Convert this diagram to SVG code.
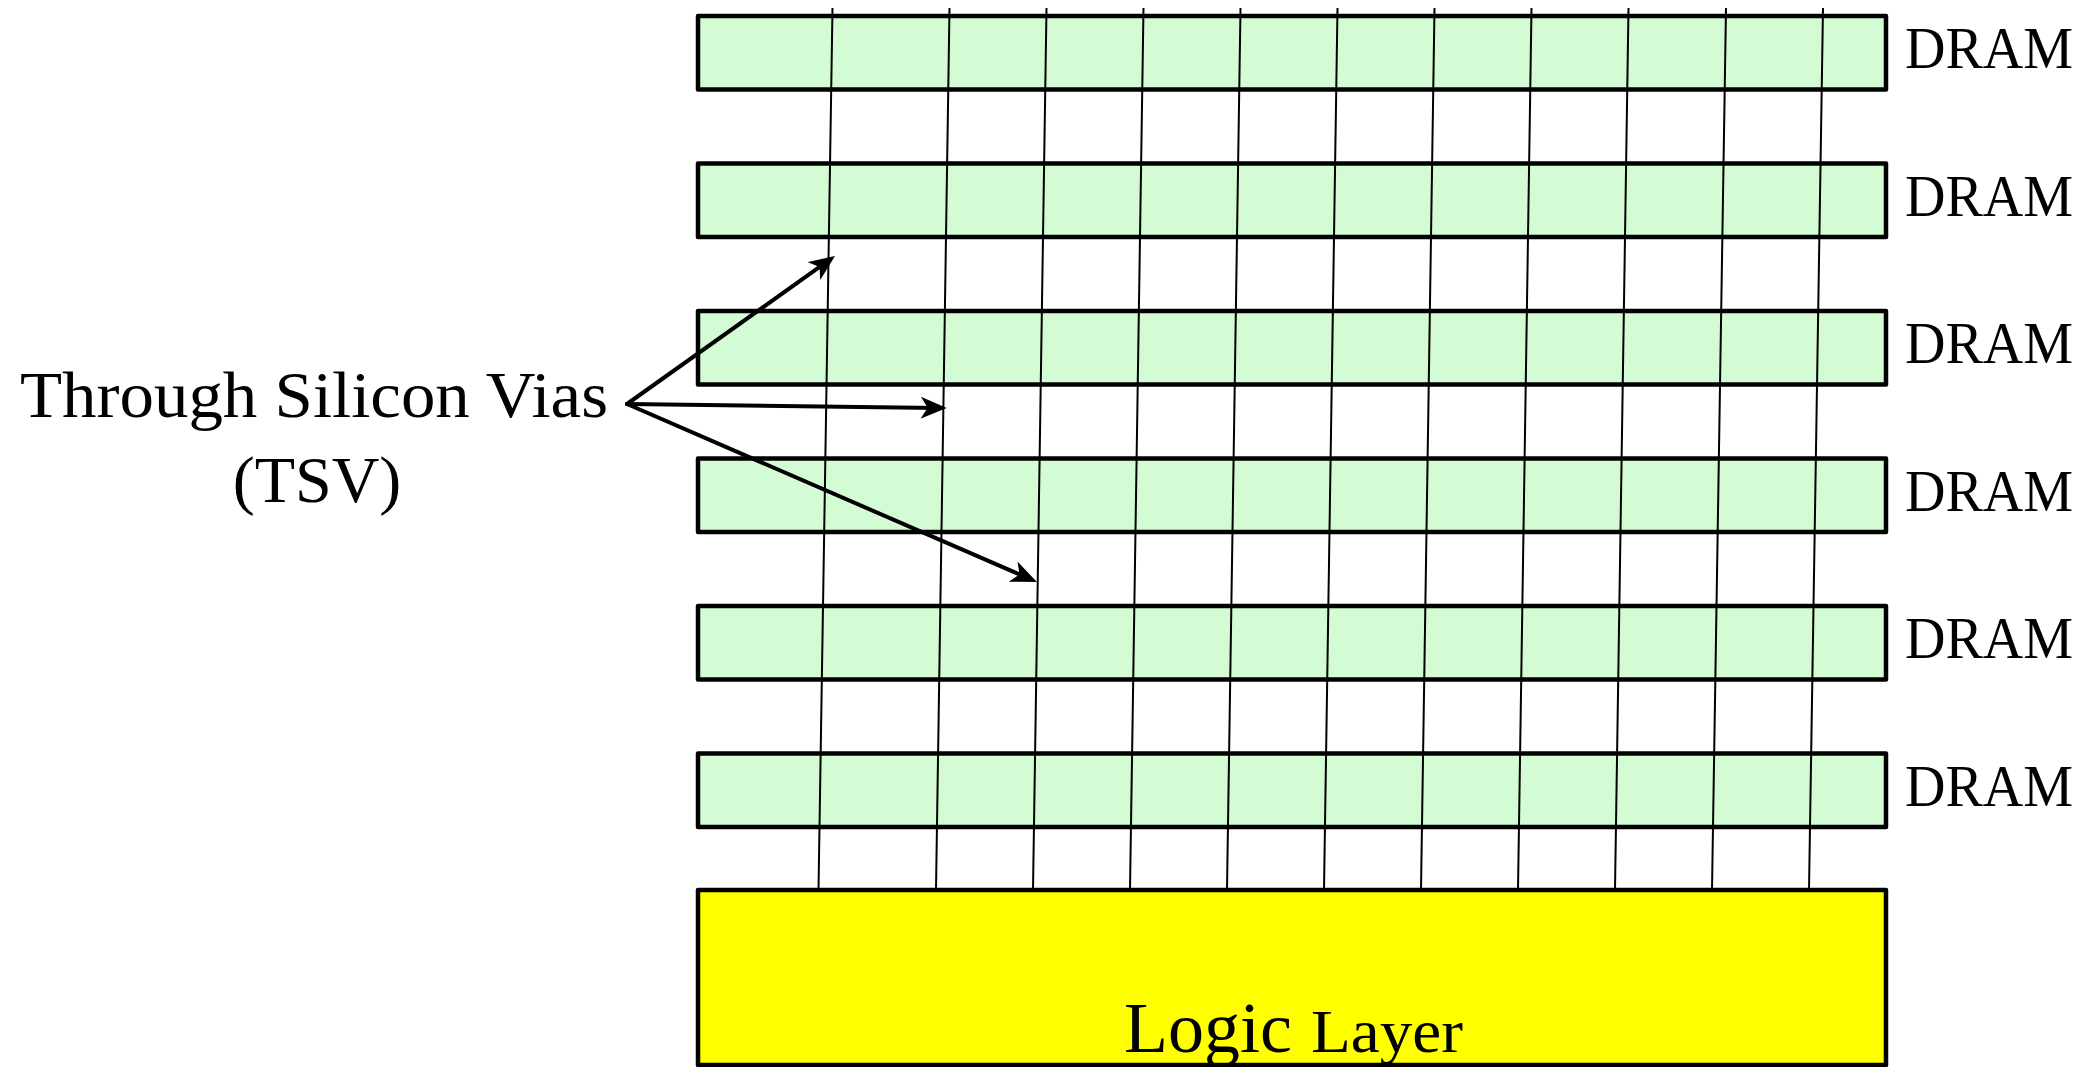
<svg xmlns="http://www.w3.org/2000/svg" width="2086" height="1067" viewBox="0 0 2086 1067">
<style>
.dram{fill:#d4fcd4;stroke:#000;stroke-width:4.5;stroke-linejoin:round}
.logic{fill:#ffff00;stroke:#000;stroke-width:4.5;stroke-linejoin:round}
.tsv{stroke:#000;stroke-width:2;fill:none}
.arr{stroke:#000;stroke-width:4;fill:none;stroke-linecap:round}
.lbl{font-family:"Liberation Serif","Times New Roman",serif;fill:#000}
</style>
<defs>
<marker id="ah" viewBox="0 0 26 22" refX="17" refY="11" markerWidth="26" markerHeight="22" markerUnits="userSpaceOnUse" orient="auto">
<path d="M0,0 L26,11 L0,22 L7,11 z" fill="#000"/>
</marker>
</defs>
<g id="logic">
<rect class="logic" x="698" y="890" width="1188" height="175"/>
<text class="lbl" x="1124" y="1052" font-size="72" textLength="168" lengthAdjust="spacingAndGlyphs">Logic</text>
<text class="lbl" x="1311" y="1052" font-size="61" textLength="152" lengthAdjust="spacingAndGlyphs">Layer</text>
</g>
<g id="dram1"><rect class="dram" x="698" y="16" width="1188" height="73.5"/><text class="lbl" x="1905" y="68" font-size="60" textLength="168" lengthAdjust="spacingAndGlyphs">DRAM</text></g>
<g id="dram2"><rect class="dram" x="698" y="163.5" width="1188" height="73.5"/><text class="lbl" x="1905" y="215.5" font-size="60" textLength="168" lengthAdjust="spacingAndGlyphs">DRAM</text></g>
<g id="dram3"><rect class="dram" x="698" y="311" width="1188" height="73.5"/><text class="lbl" x="1905" y="363" font-size="60" textLength="168" lengthAdjust="spacingAndGlyphs">DRAM</text></g>
<g id="dram4"><rect class="dram" x="698" y="458.5" width="1188" height="73.5"/><text class="lbl" x="1905" y="510.5" font-size="60" textLength="168" lengthAdjust="spacingAndGlyphs">DRAM</text></g>
<g id="dram5"><rect class="dram" x="698" y="606" width="1188" height="73.5"/><text class="lbl" x="1905" y="658" font-size="60" textLength="168" lengthAdjust="spacingAndGlyphs">DRAM</text></g>
<g id="dram6"><rect class="dram" x="698" y="753.5" width="1188" height="73.5"/><text class="lbl" x="1905" y="805.5" font-size="60" textLength="168" lengthAdjust="spacingAndGlyphs">DRAM</text></g>
<g id="tsvs">
<line class="tsv" x1="832.5" y1="8" x2="818.5" y2="890"/>
<line class="tsv" x1="949.5" y1="8" x2="936" y2="890"/>
<line class="tsv" x1="1046.5" y1="8" x2="1033" y2="890"/>
<line class="tsv" x1="1143.5" y1="8" x2="1130" y2="890"/>
<line class="tsv" x1="1240.5" y1="8" x2="1227" y2="890"/>
<line class="tsv" x1="1337.5" y1="8" x2="1324" y2="890"/>
<line class="tsv" x1="1434.5" y1="8" x2="1421" y2="890"/>
<line class="tsv" x1="1531.5" y1="8" x2="1518" y2="890"/>
<line class="tsv" x1="1628.5" y1="8" x2="1615" y2="890"/>
<line class="tsv" x1="1726" y1="8" x2="1712" y2="890"/>
<line class="tsv" x1="1823" y1="8" x2="1809" y2="890"/>
</g>
<g id="label">
<text class="lbl" x="20" y="416.5" font-size="66" textLength="588" lengthAdjust="spacingAndGlyphs">Through Silicon Vias</text>
<text class="lbl" x="317" y="502" font-size="66" text-anchor="middle">(TSV)</text>
</g>
<g id="connectors">
<line class="arr" x1="627" y1="404" x2="827.7" y2="261.2" marker-end="url(#ah)"/>
<line class="arr" x1="627" y1="404" x2="937.7" y2="407.9" marker-end="url(#ah)"/>
<line class="arr" x1="627" y1="404" x2="1028.7" y2="578.4" marker-end="url(#ah)"/>
</g>
</svg>
